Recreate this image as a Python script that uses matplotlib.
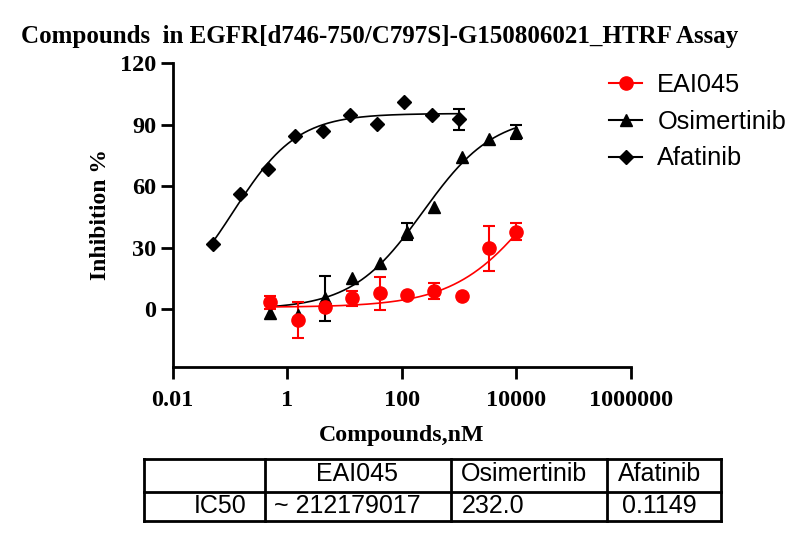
import numpy as np
import matplotlib
matplotlib.use("Agg")
from matplotlib import pyplot as plt
from matplotlib.lines import Line2D

# Konzentrationen (nM), 3-fache Verdünnung
conc_afatinib = [0.0508, 0.152, 0.457, 1.37, 4.12, 12.3, 37.0, 111.0, 333.0, 1000.0]
conc_osim = [0.508, 1.52, 4.57, 13.7, 41.2, 123.0, 370.0, 1111.0, 3333.0, 10000.0]
conc_eai = [0.508, 1.52, 4.57, 13.7, 41.2, 123.0, 370.0, 1111.0, 3333.0, 10000.0]

# Inhibition % (Mittelwert) und Fehler (0 = nicht sichtbar)
inh_afatinib = [31.7, 56.2, 68.3, 84.5, 87.1, 94.8, 90.4, 101.3, 94.8, 92.7]
err_afatinib = [0, 0, 0, 0, 0, 0, 0, 0, 0, 5.0]
inh_osim = [-2.0, -3.0, 5.4, 15.1, 22.8, 37.9, 50.0, 74.1, 83.0, 86.6]
err_osim = [0, 0, 11.0, 0, 0, 4.0, 0, 0, 0, 3.4]
inh_eai = [3.4, -5.2, 1.3, 5.4, 7.8, 7.0, 8.9, 6.6, 29.7, 37.9]
err_eai = [3.3, 8.6, 0, 3.7, 8.0, 0, 4.0, 0, 10.9, 4.2]

# Parameter der 4PL-Fits (bottom, top, IC50, hill), aus dem Bild geschätzt
fit_afatinib = (0.0, 95.5, 0.1149, 0.78)
fit_osim = (0.0, 95.0, 232.0, 0.70)
fit_eai = (1.0, 100.0, 25400.0, 0.60)

labels = ["EAI045", "Osimertinib", "Afatinib"]
table_header = ["", "EAI045", "Osimertinib", "Afatinib"]
table_row = ["IC50", "~ 212179017", "232.0", "0.1149"]

SERIF = "Liberation Serif"
SANS = "Liberation Sans"


def four_pl(x, bottom, top, ic50, hill):
    return bottom + (top - bottom) / (1.0 + (ic50 / x) ** hill)


def draw_series(ax, conc, inh, err, fit, color, marker, ms):
    conc = np.array(conc)
    inh = np.array(inh)
    err = np.array(err)
    xs = np.logspace(np.log10(conc.min()), np.log10(conc.max()), 300)
    ax.plot(xs, four_pl(xs, *fit), color=color, lw=1.2, zorder=2)
    m = err > 0
    ax.errorbar(conc[m], inh[m], yerr=err[m], fmt="none", ecolor=color,
                elinewidth=1.5, capsize=4.5, capthick=1.5, zorder=3)
    ax.plot(conc, inh, ls="none", marker=marker, ms=ms, color=color,
            mec=color, zorder=4)


def main() -> None:
    fig = plt.figure(figsize=(8.08, 5.39), dpi=100)
    ax = fig.add_axes([172.7 / 808, 1 - 366.7 / 539, (631 - 172.7) / 808, (366.7 - 63.3) / 539])

    draw_series(ax, conc_afatinib, inh_afatinib, err_afatinib, fit_afatinib, "black", "D", 7.5)
    draw_series(ax, conc_osim, inh_osim, err_osim, fit_osim, "black", "^", 9)
    draw_series(ax, conc_eai, inh_eai, err_eai, fit_eai, "red", "o", 9.5)

    ax.set_xscale("log")
    ax.set_xlim(0.01, 1e6)
    ax.set_ylim(-28, 120)
    ax.set_xticks([0.01, 1, 100, 10000, 1000000])
    ax.set_xticklabels(["0.01", "1", "100", "10000", "1000000"])
    ax.minorticks_off()
    ax.set_yticks([0, 30, 60, 90, 120])
    for s in ["top", "right"]:
        ax.spines[s].set_visible(False)
    for s in ["left", "bottom"]:
        ax.spines[s].set_linewidth(2.0)
    ax.tick_params(axis="both", width=2.0, length=8.5, direction="out")
    ax.tick_params(axis="x", pad=8)
    ax.tick_params(axis="y", pad=3.5)
    for lab in ax.get_xticklabels() + ax.get_yticklabels():
        lab.set_fontfamily(SERIF)
        lab.set_fontweight("bold")
        lab.set_fontsize(17.5)

    ax.set_ylabel("Inhibition %", fontfamily=SERIF, fontweight="bold", fontsize=17, labelpad=6)
    fig.text(402 / 808, 1 - 436 / 539, "Compounds,nM", fontfamily=SERIF, fontweight="bold",
             fontsize=17.2, ha="center", va="center")
    fig.text(380 / 808, 1 - 37 / 539, "Compounds  in EGFR[d746-750/C797S]-G150806021_HTRF Assay",
             fontfamily=SERIF, fontweight="bold", fontsize=18, ha="center", va="center")

    # Legende
    handles = [
        Line2D([], [], color="red", marker="o", ms=9.5, lw=1.5),
        Line2D([], [], color="black", marker="^", ms=9, lw=1.5),
        Line2D([], [], color="black", marker="D", ms=7.5, lw=1.5),
    ]
    fig.legend(handles, labels, loc="upper left", bbox_to_anchor=(609 / 808, 1 - 73 / 539),
               frameon=False, prop={"family": SANS, "size": 18.3}, handlelength=1.3,
               handletextpad=0.6, labelspacing=0.5, borderpad=0, borderaxespad=0)

    # Tabelle
    tax = fig.add_axes([0, 0, 1, 1])
    tax.set_xlim(0, 808)
    tax.set_ylim(539, 0)
    tax.axis("off")
    col_x = [144.3, 265, 450.5, 607, 721]
    row_y = [459, 491.7, 521]
    for y in row_y:
        tax.plot([col_x[0], col_x[-1]], [y, y], color="black", lw=2.0, solid_capstyle="projecting")
    for x in col_x:
        tax.plot([x, x], [row_y[0], row_y[-1]], color="black", lw=2.0, solid_capstyle="projecting")
    ty1 = (row_y[0] + row_y[1]) / 2 - 1
    ty2 = (row_y[1] + row_y[2]) / 2
    tprop = dict(fontfamily=SANS, fontsize=18, va="center")
    tax.text(357, ty1, table_header[1], ha="center", **tprop)
    tax.text(461, ty1, table_header[2], ha="left", **tprop)
    tax.text(618, ty1, table_header[3], ha="left", **tprop)
    tax.text(246, ty2, table_row[0], ha="right", **tprop)
    tax.text(274, ty2, table_row[1], ha="left", **tprop)
    tax.text(462, ty2, table_row[2], ha="left", **tprop)
    tax.text(622, ty2, table_row[3], ha="left", **tprop)

    fig.savefig("out.png", dpi=100)


if __name__ == "__main__":
    main()
